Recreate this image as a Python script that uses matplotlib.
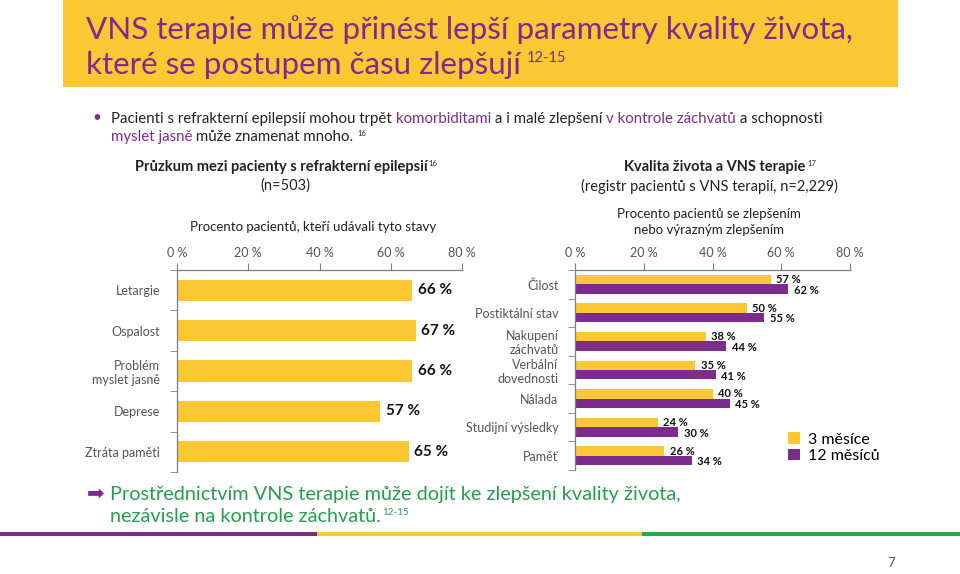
import numpy as np
import matplotlib.pyplot as plt
from matplotlib.patches import Rectangle

plt.rcParams['font.family'] = ['Lato', 'DejaVu Sans']

PURPLE = '#7B2C8C'
YELLOW = '#FBC733'
GREEN = '#23A04C'
GRAY = '#555555'

# left chart: survey of patients (n=503)
left_cats = ['Letargie', 'Ospalost', 'Problém\nmyslet jasně', 'Deprese', 'Ztráta paměti']
left_vals = [66, 67, 66, 57, 65]

# right chart: VNS registry (n=2,229)
right_cats = ['Čilost', 'Postiktální stav', 'Nakupení\nzáchvatů', 'Verbální\ndovednosti',
              'Nálada', 'Studijní výsledky', 'Paměť']
vals_3m = [57, 50, 38, 35, 40, 24, 26]
vals_12m = [62, 55, 44, 41, 45, 30, 34]
series_labels = ['3 měsíce', '12 měsíců']

xticks = [0, 20, 40, 60, 80]
xtick_labels = [f'{v} %' for v in xticks]

fig = plt.figure(figsize=(9.6, 5.74), dpi=100)

# background axes in pixel coordinates for the slide decoration
bg = fig.add_axes([0, 0, 1, 1])
bg.set_xlim(0, 960)
bg.set_ylim(574, 0)
bg.axis('off')


def chain(x, y, parts, size, **kw):
    # write text pieces one after another on the same line
    t = bg.text(x, y, parts[0][0], color=parts[0][1], fontsize=size, va='baseline', **kw)
    for s, c in parts[1:]:
        t = bg.annotate(s, xy=(1, 0), xycoords=t, va='bottom', color=c, fontsize=size, **kw)
    return t


def sup(t, s, size, color, dx=1):
    return bg.annotate(s, xy=(1, 1), xycoords=t, xytext=(dx, 0), textcoords='offset points',
                       va='top', fontsize=size, color=color)


# title box
bg.add_patch(Rectangle((63, 0), 835, 87, color=YELLOW, lw=0))
bg.text(86, 39, 'VNS terapie může přinést lepší parametry kvality života,',
        fontsize=22.6, color=PURPLE, va='baseline')
t = bg.text(86, 74, 'které se postupem času zlepšují', fontsize=22.6, color=PURPLE, va='baseline')
sup(t, '12-15', 10.5, PURPLE, dx=4)

# bullet
bg.text(97, 118, '•', fontsize=11, color=PURPLE, ha='center', va='center')
chain(111, 123, [('Pacienti s refrakterní epilepsií mohou trpět ', '#222222'),
                 ('komorbiditami', PURPLE),
                 (' a i malé zlepšení ', '#222222'),
                 ('v kontrole záchvatů', PURPLE),
                 (' a schopnosti', '#222222')], 10.8)
t = chain(111, 141, [('myslet jasně', PURPLE), (' může znamenat mnoho.', '#222222')], 10.8)
sup(t, '16', 5.5, '#222222', dx=3)

# chart headers
t = bg.text(281, 167, 'Průzkum mezi pacienty s refrakterní epilepsií', fontsize=10.5,
            fontweight='bold', ha='center', va='center', color='#222222')
sup(t, '16', 5.5, '#222222')
bg.text(285, 186, '(n=503)', fontsize=10.5, ha='center', va='center', color='#222222')
bg.text(313, 227, 'Procento pacientů, kteří udávali tyto stavy', fontsize=9.5,
        ha='center', va='center', color='#222222')

t = bg.text(715, 167, 'Kvalita života a VNS terapie', fontsize=10.5,
            fontweight='bold', ha='center', va='center', color='#222222')
sup(t, '17', 5.5, '#222222')
bg.text(709, 186, '(registr pacientů s VNS terapií, n=2,229)', fontsize=10.5,
        ha='center', va='center', color='#222222')
bg.text(709, 222, 'Procento pacientů se zlepšením\nnebo výrazným zlepšením', fontsize=9.5,
        ha='center', va='center', color='#222222', linespacing=1.3)


def style_axes(ax, n):
    for side in ['right', 'bottom']:
        ax.spines[side].set_visible(False)
    for side in ['top', 'left']:
        ax.spines[side].set_color('#7f7f7f')
        ax.spines[side].set_linewidth(0.9)
    ax.set_xlim(0, 80)
    ax.set_ylim(n - 0.5, -0.5)
    ax.xaxis.tick_top()
    ax.set_xticks(xticks, xtick_labels)
    ax.tick_params(axis='x', length=5, color='#7f7f7f', labelsize=9, pad=3, labelcolor=GRAY)
    ax.set_yticks(np.arange(-0.5, n), minor=True)
    ax.tick_params(axis='y', which='minor', length=5, color='#7f7f7f')
    ax.tick_params(axis='y', which='major', length=0, pad=12, labelsize=9, labelcolor=GRAY)
    ax.set_facecolor('none')


# left chart
ax1 = fig.add_axes([177 / 960, 1 - 472 / 574, 285 / 960, 202 / 574])
y1 = np.arange(len(left_cats))
ax1.barh(y1, left_vals, height=0.52, color=YELLOW)
style_axes(ax1, len(left_cats))
ax1.set_yticks(y1, left_cats)
for yy, v in zip(y1, left_vals):
    ax1.annotate(f'{v} %', xy=(v, yy), xytext=(4, 0), textcoords='offset points',
                 va='center', fontsize=11, fontweight='bold', color='#111111')

# right chart
ax2 = fig.add_axes([575 / 960, 1 - 470 / 574, 275 / 960, 200 / 574])
y2 = np.arange(len(right_cats))
h = 0.33
b1 = ax2.barh(y2 - h / 2, vals_3m, height=h, color=YELLOW)
b2 = ax2.barh(y2 + h / 2, vals_12m, height=h, color=PURPLE)
style_axes(ax2, len(right_cats))
ax2.set_yticks(y2, right_cats)
for yy, v in zip(y2, vals_3m):
    ax2.annotate(f'{v} %', xy=(v, yy - h / 2), xytext=(4, 0), textcoords='offset points',
                 va='center', fontsize=8, fontweight='bold', color='#111111')
for yy, v in zip(y2, vals_12m):
    ax2.annotate(f'{v} %', xy=(v, yy + h / 2), xytext=(4, -1), textcoords='offset points',
                 va='center', fontsize=8, fontweight='bold', color='#111111')

fig.legend([b1, b2], series_labels, loc='upper left', bbox_to_anchor=(782 / 960, 1 - 426 / 574),
           frameon=False, fontsize=11.5, handlelength=0.7, handleheight=0.7,
           handletextpad=0.5, labelspacing=0.15, borderaxespad=0)

# conclusion
bg.text(96, 494, '➡', fontsize=15, color=PURPLE, ha='center', va='center', family='DejaVu Sans')
bg.text(110, 500, 'Prostřednictvím VNS terapie může dojít ke zlepšení kvality života,',
        fontsize=14.3, color=GREEN, va='baseline')
t = bg.text(110, 522, 'nezávisle na kontrole záchvatů.', fontsize=14.3, color=GREEN, va='baseline')
sup(t, '12-15', 7, GREEN)

# bottom stripe
bg.add_patch(Rectangle((0, 532), 317, 4, color=PURPLE, lw=0))
bg.add_patch(Rectangle((317, 532), 325, 4, color=YELLOW, lw=0))
bg.add_patch(Rectangle((642, 532), 318, 4, color='#1DAE4B', lw=0))
bg.text(891, 563, '7', fontsize=9.5, color='#555555', ha='center', va='center')

fig.savefig('out.png', dpi=100)
